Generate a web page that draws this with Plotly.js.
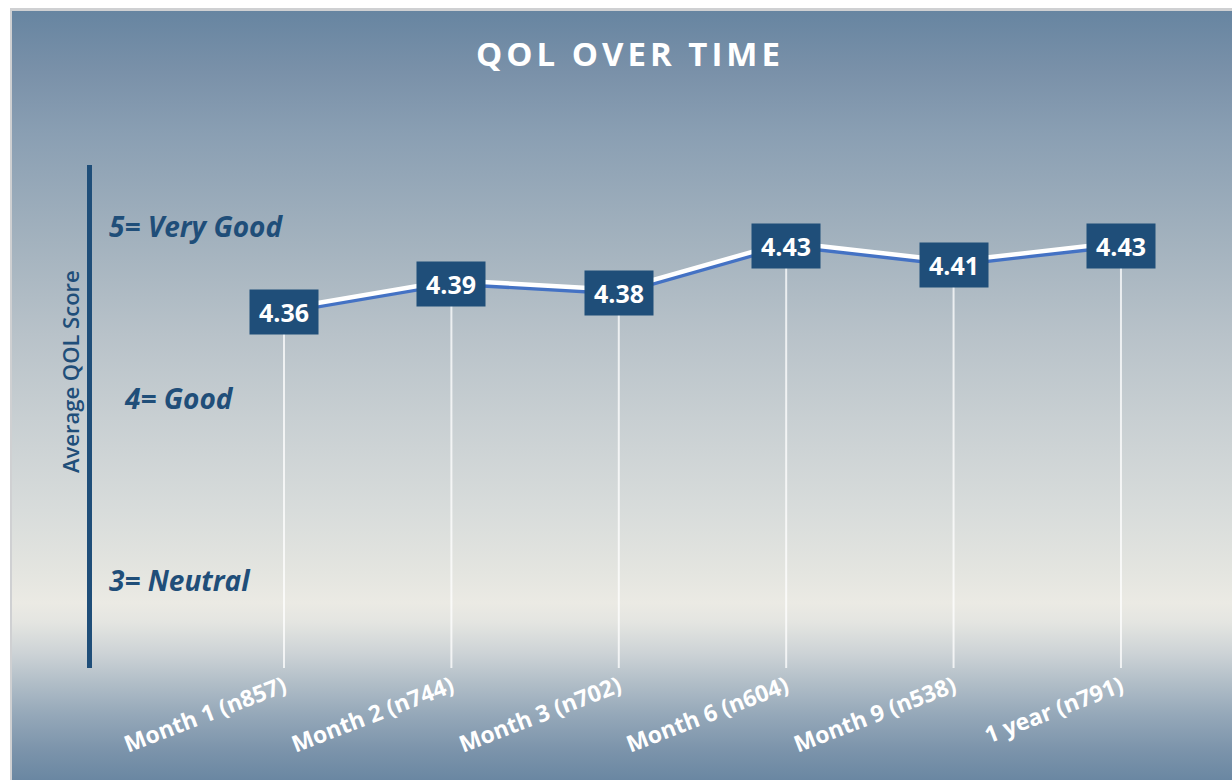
<!DOCTYPE html>
<html>
<head>
<meta charset="utf-8">
<script src="https://cdn.plot.ly/plotly-3.0.1.min.js"></script>
<style>
  html, body { margin: 0; padding: 0; background: #ffffff; }
  #wrap { position: relative; width: 1232px; height: 780px; overflow: hidden; }
  #bg {
    position: absolute; left: 10px; top: 8px; right: 0; bottom: 0;
    border-left: 2px solid #cfd0d2; border-top: 3px solid #cfd0d2;
    background: linear-gradient(to bottom,
      #6785a1 0%, #7a91a9 8%, #8a9fb3 16%, #a3b2be 30%, #b8c2c9 42%,
      #c8cfd2 53%, #d8dcdb 65%, #e4e5e0 73%, #ebeae4 77%, #e4e5e1 79.5%,
      #cdd3d6 83.5%, #b0bdc7 87.5%, #95a8b9 91.5%, #7c94ab 96%, #6a87a2 100%);
  }
  #chart { position: absolute; left: 0; top: 0; width: 1232px; height: 780px; }
</style>
</head>
<body>
<div id="wrap">
  <div id="bg"></div>
  <div id="chart"></div>
</div>
<script>
// ---- data ----
const categories = ["Month 1 (n857)", "Month 2 (n744)", "Month 3 (n702)", "Month 6 (n604)", "Month 9 (n538)", "1 year (n791)"];
const qolScores = [4.36, 4.39, 4.38, 4.43, 4.41, 4.43];
const scaleLabels = ["5= Very Good", "4= Good", "3= Neutral"];

// ---- layout constants ----
const W = 1232, H = 780;
const M = { l: 92, r: 27, t: 165, b: 112 };
const yMin = 3.985, yMax = 4.515;
const shift = 0.0036; // white highlight line sits slightly above blue line
const navy = "#1f4e79";
const xs = categories.map((c, i) => i);

function px2paperX(px) { return (px - M.l) / (W - M.l - M.r); }
function px2paperY(py) { return (H - M.b - py) / (H - M.t - M.b); }

const blueLine = {
  x: xs, y: qolScores, type: "scatter", mode: "lines",
  line: { color: "#4472c4", width: 4.5 }, hoverinfo: "skip", yaxis: "y"
};
const dropLines = {
  x: xs, y: qolScores, type: "scatter", mode: "markers",
  marker: { size: 1, color: "rgba(0,0,0,0)" },
  error_y: { type: "data", symmetric: false, array: qolScores.map(() => 0),
             arrayminus: qolScores.map(v => v - yMin), color: "rgba(255,255,255,0.75)", thickness: 2, width: 0 },
  hoverinfo: "skip", yaxis: "y"
};
const whiteLine = {
  x: xs, y: qolScores, type: "scatter", mode: "lines",
  line: { color: "#ffffff", width: 4.5 }, hoverinfo: "skip", yaxis: "y2"
};

const annotations = [];
qolScores.forEach((v, i) => {
  annotations.push({
    x: i, y: v, xref: "x", yref: "y", showarrow: false,
    text: "<b>" + v.toFixed(2) + "</b>",
    font: { family: "Open Sans, sans-serif", size: 25, color: "#ffffff" },
    bgcolor: navy, width: 66, height: 42, align: "center", valign: "middle",
    xanchor: "center", yanchor: "middle"
  });
});

const scalePos = [[107, 226], [122, 398], [107, 580]];
scaleLabels.forEach((t, i) => {
  annotations.push({
    x: px2paperX(scalePos[i][0]), y: px2paperY(scalePos[i][1]), xref: "paper", yref: "paper",
    xanchor: "left", yanchor: "middle", showarrow: false,
    text: "<b><i>" + t + "</i></b>",
    font: { family: "Open Sans, sans-serif", size: 28, color: navy }
  });
});

annotations.push({
  x: px2paperX(70), y: px2paperY(372), xref: "paper", yref: "paper",
  xanchor: "center", yanchor: "middle", showarrow: false, textangle: -90,
  text: "Average QOL Score",
  font: { family: "Open Sans, sans-serif", size: 22, color: navy, weight: 600 }
});

const layout = {
  width: W, height: H,
  margin: M,
  paper_bgcolor: "rgba(0,0,0,0)", plot_bgcolor: "rgba(0,0,0,0)",
  showlegend: false,
  title: {
    text: '<b><span style="letter-spacing:4px">QOL OVER TIME</span></b>',
    xref: "container", yref: "container", x: 630 / W, y: 1 - 54 / H,
    xanchor: "center", yanchor: "middle",
    font: { family: "Open Sans, sans-serif", size: 33, color: "#ffffff" }
  },
  xaxis: {
    type: "linear", range: [-1.147, 5.502],
    tickmode: "array", tickvals: xs, ticktext: categories,
    tickangle: -21, ticks: "", showgrid: false, zeroline: false, showline: false,
    tickfont: { family: "Open Sans, sans-serif", size: 23, color: "#ffffff", weight: "bold" },
    fixedrange: true
  },
  yaxis: {
    range: [yMin, yMax], showticklabels: false, ticks: "", showgrid: false, zeroline: false,
    showline: true, linecolor: navy, linewidth: 5, fixedrange: true
  },
  yaxis2: {
    range: [yMin - shift, yMax - shift], overlaying: "y", showticklabels: false, ticks: "",
    showgrid: false, zeroline: false, showline: false, fixedrange: true
  },
  annotations: annotations
};

Plotly.newPlot("chart", [dropLines, blueLine, whiteLine], layout, { displayModeBar: false, staticPlot: true });
</script>
</body>
</html>
